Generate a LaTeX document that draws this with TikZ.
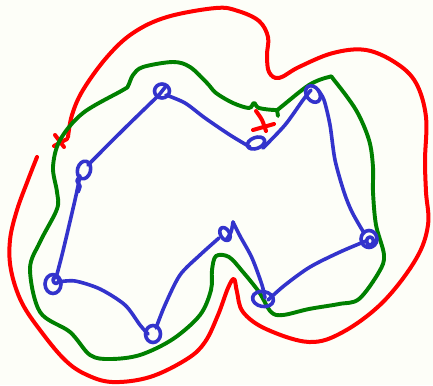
\documentclass[tikz,border=0pt]{standalone}
\definecolor{bg}{RGB}{253,254,248}
\definecolor{pr}{RGB}{255,0,0}
\definecolor{pg}{RGB}{0,128,0}
\definecolor{pb}{RGB}{51,51,204}
\tikzset{
  redline/.style={draw=pr, line width=4pt, line cap=round, line join=round},
  greenline/.style={draw=pg, line width=3.9pt, line cap=round, line join=round},
  blueline/.style={draw=pb, line width=3.6pt, line cap=round, line join=round},
}
\begin{document}
\begin{tikzpicture}[x=1pt,y=-1pt]
\fill[bg] (0,0) rectangle (433,385);
\useasboundingbox (0,0) rectangle (433,385);

% red outer curve
\draw[redline] plot[smooth, tension=0.6] coordinates {
 (68,137) (72,115) (83,90) (107,57) (133,33) (167,17) (216,8) (238,11) (259,21)
 (268,37) (267,55) (269,72) (279,78) (299,67) (333,53) (366,50) (396,63) (416,83)
 (426,117) (425,160) (426,192) (428,225) (416,259) (383,302) (343,332) (309,342)
 (266,329) (243,312) (237,292) (234,279) (228,288) (218,315) (205,342) (187,359)
 (150,377) (112,382) (85,374) (65,360) (43,334) (22,303) (11,270) (10,240) (17,210)
 (28,180) (37,157)};
% red marks
\draw[redline] (55,135) -- (64,147);
\draw[redline] (54,146) -- (67,139);
\draw[redline] plot[smooth] coordinates {(256,111) (262,120) (266,131)};
\draw[redline] (253,130) -- (274,124);

% green curve
\draw[greenline] plot[smooth cycle, tension=0.55] coordinates {
 (133,75) (143,67) (173,62) (190,67) (207,83) (216,93) (233,103) (249,108) (254,103)
 (259,108) (276,110) (281,107) (309,85) (329,77) (334,80) (356,110) (369,140)
 (373,167) (373,192) (376,225) (384,255) (379,272) (359,299) (339,304) (309,309)
 (283,315) (271,312) (259,292) (243,272) (229,257) (216,256) (212,270) (211,290)
 (200,315) (173,339) (140,355) (110,359) (90,355) (70,332) (40,312) (30,269)
 (40,242) (57,209) (57,192) (53,167) (60,140) (83,113) (123,90) (128,86)};
\draw[greenline] (277,110) -- (278,116);

% blue polygon edges
\draw[blueline] plot[smooth] coordinates {(159,95) (125,128) (88,165)};
\draw[blueline] plot[smooth] coordinates {(166,95) (185,103) (205,118) (230,135) (250,147)};
\draw[blueline] plot[smooth] coordinates {(263,148) (285,125) (303,100) (311,90)};
\draw[blueline] plot[smooth] coordinates {(318,90) (324,100) (330,125) (335,160) (344,192) (352,212) (364,233)};
\draw[blueline] plot[smooth] coordinates {(366,241) (340,252) (310,267) (285,285) (268,300)};
\draw[blueline] plot[smooth] coordinates {(265,298) (262,285) (252,258) (240,236) (233,222)};
\draw[blueline] plot[smooth] coordinates {(233,222) (231,232) (226,240)};
\draw[blueline] plot[smooth] coordinates {(219,238) (200,255) (180,275) (165,305) (156,328)};
\draw[blueline] plot[smooth] coordinates {(148,334) (140,325) (125,305) (100,289) (75,281) (58,282)};
\draw[blueline] plot[smooth] coordinates {(56,278) (62,255) (68,230) (75,200) (78,186) (80,176)};

% blue loops
\draw[blueline] (162,91) ellipse [x radius=7.5, y radius=7];
\draw[blueline] (159,95) -- (166,86);
\draw[blueline] (256,143) ellipse [x radius=9, y radius=5.5, rotate=20];
\draw[blueline] (313,94) ellipse [x radius=6.5, y radius=9, rotate=35];
\draw[blueline] (84,170) ellipse [x radius=6.5, y radius=9, rotate=-15];
\draw[blueline] plot[smooth] coordinates {(80,176) (77,181) (80,186) (78,192)};
\draw[blueline] (369,239) ellipse [x radius=8, y radius=8.5];
\draw[blueline] (370,241) ellipse [x radius=3.5, y radius=4];
\draw[blueline] (263,299) ellipse [x radius=10.5, y radius=7.5, rotate=-10];
\draw[blueline] (225,234) ellipse [x radius=4.5, y radius=7, rotate=30];
\draw[blueline] (153,334) ellipse [x radius=7.5, y radius=8.5];
\draw[blueline] (53,284) ellipse [x radius=8, y radius=9.5];
\draw[blueline] (56,280) ellipse [x radius=3, y radius=3.5];
\end{tikzpicture}
\end{document}
